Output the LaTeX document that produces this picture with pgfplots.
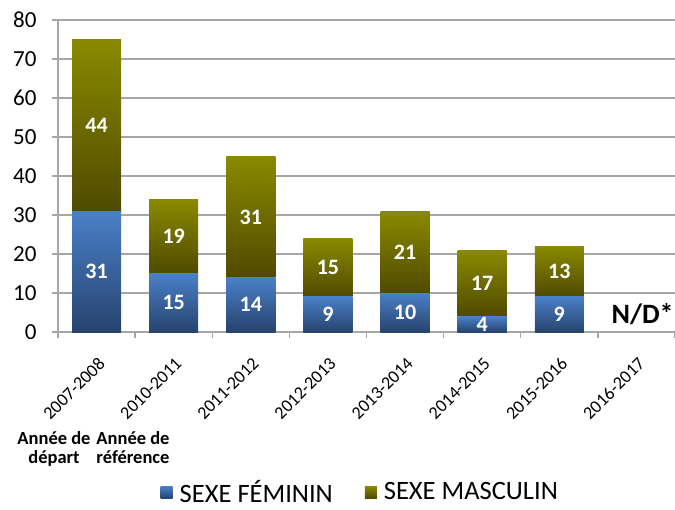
\documentclass[border=0pt]{standalone}
\usepackage{fontspec}
\setmainfont{Carlito}
\usepackage{pgfplots}
\pgfplotsset{compat=1.18}
\usepackage{pgfplotstable}

\definecolor{femtop}{RGB}{74,128,200}
\definecolor{fembot}{RGB}{39,67,110}
\definecolor{mastop}{RGB}{138,138,0}
\definecolor{masbot}{RGB}{79,74,0}
\definecolor{gridgray}{RGB}{166,166,166}

% x = category index, fem / masc counts (used for the value labels)
\pgfplotstableread{
x fem masc
0 31 44
1 15 19
2 14 31
3 9  15
4 10 21
5 4  17
6 9  13
}\datatable

\pgfplotsset{
  common/.style={
    scale only axis, width=617pt, height=312pt,
    xmin=-0.5, xmax=7.5, ymin=0, ymax=80,
    at={(0pt,0pt)}, anchor=south west,
  },
  fem/.style={draw=none, top color=femtop, bottom color=fembot},
  masc/.style={draw=none, top color=mastop, bottom color=masbot},
}

% one small axis per category, so each bar gets its own gradient
\newcommand{\barpair}[3]{%
  \begin{axis}[common, hide axis, ybar stacked, bar width=49pt]
  \addplot[fem] coordinates {(#1,#2)};
  \addplot[masc] coordinates {(#1,#3)};
  \end{axis}}

\begin{document}
\begin{tikzpicture}
\useasboundingbox (-58pt,-177pt) rectangle (617pt,332pt);

\begin{axis}[common,
  axis x line*=bottom, axis y line*=left,
  axis line style={gridgray, line width=1.3pt, -},
  ymajorgrids, grid style={gridgray, line width=1.3pt},
  ytick={0,10,...,80},
  xtick={0,...,7},
  xticklabels={2007-2008,2010-2011,2011-2012,2012-2013,2013-2014,2014-2015,2015-2016,2016-2017},
  minor xtick={-0.5,0.5,...,7.5},
  tick align=outside,
  major tick length=6pt, minor tick length=6pt,
  major x tick style={draw=none},
  minor x tick style={gridgray, line width=1.3pt},
  y tick style={gridgray, line width=1.3pt},
  /pgf/number format/assume math mode=true,
  yticklabel style={font=\fontsize{23}{23}\selectfont, xshift=-12pt},
  xticklabel style={rotate=45, anchor=north east, font=\fontsize{18}{18}\selectfont, yshift=-10pt, xshift=-9pt},
  legend style={draw=none, fill=none, at={(axis description cs:0.49,0)}, anchor=center, yshift=-160pt,
    legend columns=2, font=\fontsize{26.5}{26.5}\selectfont, inner sep=1pt,
    /tikz/every even column/.append style={column sep=30pt}},
  legend image code/.code={\path[#1,draw=none] (0pt,-6pt) rectangle (12pt,6pt);},
]
\addlegendimage{fem}
\addlegendentry{\hspace{5pt}SEXE FÉMININ}
\addlegendimage{masc}
\addlegendentry{\hspace{5pt}SEXE MASCULIN}
\end{axis}

\barpair{0}{31}{44}
\barpair{1}{15}{19}
\barpair{2}{14}{31}
\barpair{3}{9}{15}
\barpair{4}{10}{21}
\barpair{5}{4}{17}
\barpair{6}{9}{13}

\begin{axis}[common, hide axis, clip=false,
  nodes near coords, point meta=explicit symbolic,
  nodes near coords style={anchor=center, text=white, font=\bfseries\fontsize{22}{22}\selectfont},
]
\addplot[draw=none, mark=none] table[x=x, y expr=\thisrow{fem}/2, meta=fem]{\datatable};
\addplot[draw=none, mark=none] table[x=x, y expr=\thisrow{fem}+\thisrow{masc}/2, meta=masc]{\datatable};
\addplot[draw=none, mark=none, nodes near coords style={text=black, font=\bfseries\fontsize{28}{28}\selectfont}]
  coordinates {(7.08,4.6) [N/D*]};
\end{axis}

\node[align=center, anchor=north, inner sep=0pt, font=\bfseries\fontsize{18.5}{19}\selectfont] at (-4pt,-99pt) {Année de\\départ};
\node[align=center, anchor=north, inner sep=0pt, font=\bfseries\fontsize{18.5}{19}\selectfont] at (75pt,-99pt) {Année de\\référence};
\end{tikzpicture}
\end{document}
